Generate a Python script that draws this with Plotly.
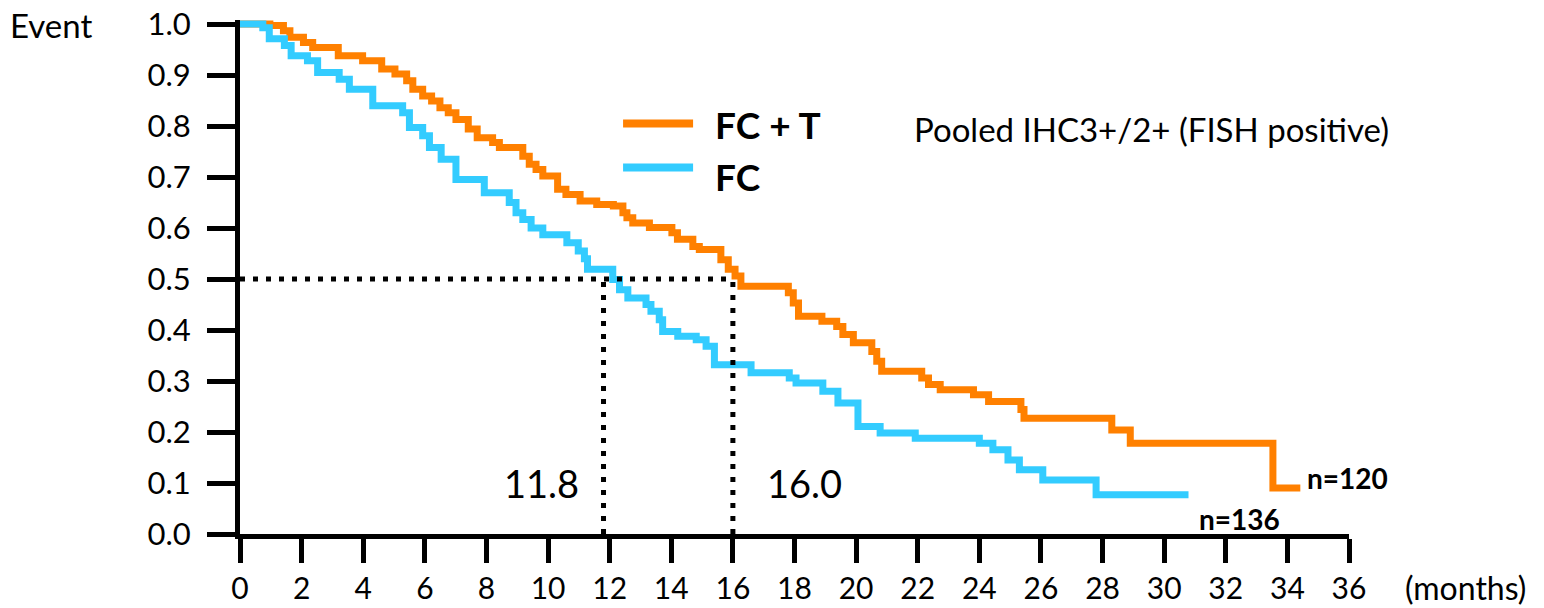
import plotly.graph_objects as go

# ---- data (months, survival proportion) ----
fct_time = [0, 0.97, 1.41, 1.62, 2.06, 2.36, 3.19, 3.98, 4.60, 5.03,
            5.41, 5.61, 5.93, 6.22, 6.49, 6.76, 7.01, 7.41, 7.70, 8.20,
            8.42, 9.18, 9.39, 9.61, 9.83, 10.31, 10.58, 11.04, 11.58, 12.12,
            12.43, 12.56, 12.75, 13.29, 14.02, 14.20, 14.70, 14.91, 15.61, 15.85,
            16.07, 16.26, 17.80, 17.96, 18.13, 18.89, 19.37, 19.57, 19.91, 20.51,
            20.67, 20.83, 22.13, 22.35, 22.73, 23.81, 24.30, 25.35, 25.45, 28.30,
            28.90, 33.53, 34.42]
fct_surv = [1.0, 0.997, 0.987, 0.974, 0.964, 0.954, 0.938, 0.928, 0.912, 0.902,
            0.889, 0.872, 0.859, 0.849, 0.836, 0.826, 0.813, 0.794, 0.777, 0.768,
            0.758, 0.741, 0.725, 0.715, 0.702, 0.676, 0.666, 0.653, 0.646, 0.643,
            0.630, 0.620, 0.610, 0.601, 0.591, 0.578, 0.564, 0.558, 0.538, 0.519,
            0.506, 0.486, 0.473, 0.453, 0.427, 0.417, 0.407, 0.391, 0.375, 0.358,
            0.339, 0.319, 0.306, 0.293, 0.283, 0.273, 0.260, 0.244, 0.227, 0.204,
            0.178, 0.090, 0.090]

fc_time = [0, 0.74, 0.95, 1.44, 1.66, 2.19, 2.52, 3.22, 3.55, 4.31,
           5.28, 5.50, 5.93, 6.15, 6.53, 7.01, 7.93, 8.74, 8.96, 9.18,
           9.45, 9.83, 10.61, 10.98, 11.18, 11.28, 12.10, 12.32, 12.59, 13.18,
           13.34, 13.61, 13.72, 14.21, 14.81, 15.13, 15.40, 16.59, 17.83, 18.05,
           18.92, 19.41, 20.06, 20.78, 21.92, 24.00, 24.44, 24.93, 25.30, 26.06,
           27.79, 30.79]
fc_surv = [1.0, 0.993, 0.971, 0.958, 0.938, 0.928, 0.905, 0.892, 0.872, 0.840,
           0.826, 0.797, 0.781, 0.758, 0.735, 0.695, 0.669, 0.650, 0.630, 0.617,
           0.600, 0.587, 0.571, 0.555, 0.540, 0.519, 0.499, 0.479, 0.463, 0.450,
           0.437, 0.420, 0.397, 0.388, 0.381, 0.368, 0.332, 0.316, 0.306, 0.296,
           0.280, 0.257, 0.211, 0.198, 0.188, 0.178, 0.165, 0.145, 0.126, 0.106,
           0.077, 0.077]

medians = [11.8, 16.0]          # FC, FC + T
median_level = 0.5
series_names = ["FC + T", "FC"]
n_labels = ["n=120", "n=136"]
x_ticks = list(range(0, 37, 2))
y_ticks = [i / 10 for i in range(0, 11)]
y_ticktext = [f"{v:.1f}" for v in y_ticks]

ORANGE = "#FF8000"
BLUE = "#33CCFF"
FONT = "Lato"

fig = go.Figure()

fig.add_trace(go.Scatter(x=fct_time, y=fct_surv, mode="lines", line_shape="hv",
                         line=dict(color=ORANGE, width=7), name=series_names[0],
                         showlegend=False))
fig.add_trace(go.Scatter(x=fc_time, y=fc_surv, mode="lines", line_shape="hv",
                         line=dict(color=BLUE, width=7), name=series_names[1],
                         showlegend=False))

dash_style = dict(color="black", width=5, dash="5px,8px")
fig.add_trace(go.Scatter(x=[0, max(medians)], y=[median_level, median_level],
                         mode="lines", line=dash_style, showlegend=False))
for m in medians:
    fig.add_trace(go.Scatter(x=[m, m], y=[0, median_level], mode="lines",
                             line=dash_style, showlegend=False))

# helpers: reference pixel -> paper coords (relative to plot area)
px_w = 1108.8
def xp(px):
    return (px - 240) / px_w
def yp(py):
    return (534 - py) / 509.9

shapes = [
    dict(type="line", xref="paper", yref="paper", x0=xp(623), x1=xp(693),
         y0=yp(126.7), y1=yp(126.7), line=dict(color=ORANGE, width=8)),
    dict(type="line", xref="paper", yref="paper", x0=xp(623), x1=xp(693),
         y0=yp(170.3), y1=yp(170.3), line=dict(color=BLUE, width=8)),
]

annotations = [
    dict(text=f"<b>{series_names[0]}</b>", xref="paper", yref="paper", x=xp(713), y=yp(128),
         xanchor="left", yanchor="middle", showarrow=False, font=dict(size=37, family=FONT)),
    dict(text=f"<b>{series_names[1]}</b>", xref="paper", yref="paper", x=xp(713), y=yp(179.7),
         xanchor="left", yanchor="middle", showarrow=False, font=dict(size=37, family=FONT)),
    dict(text="Pooled IHC3+/2+ (FISH positive)", xref="paper", yref="paper", x=xp(912), y=yp(132),
         xanchor="left", yanchor="middle", showarrow=False, font=dict(size=33, family=FONT)),
    dict(text="Event", xref="paper", yref="paper", x=xp(8), y=yp(29),
         xanchor="left", yanchor="middle", showarrow=False, font=dict(size=33, family=FONT)),
    dict(text="(months)", xref="paper", yref="paper", x=xp(1403), y=yp(587),
         xanchor="left", yanchor="middle", showarrow=False, font=dict(size=32, family=FONT)),
    dict(text=f"{medians[0]:.1f}", xref="paper", yref="paper", x=xp(541), y=yp(483),
         xanchor="center", yanchor="middle", showarrow=False, font=dict(size=38, family=FONT)),
    dict(text=f"{medians[1]:.1f}", xref="paper", yref="paper", x=xp(804), y=yp(483),
         xanchor="center", yanchor="middle", showarrow=False, font=dict(size=38, family=FONT)),
    dict(text=f"<b>{n_labels[0]}</b>", xref="paper", yref="paper", x=xp(1305), y=yp(478),
         xanchor="left", yanchor="middle", showarrow=False, font=dict(size=28, family=FONT)),
    dict(text=f"<b>{n_labels[1]}</b>", xref="paper", yref="paper", x=xp(1197), y=yp(519),
         xanchor="left", yanchor="middle", showarrow=False, font=dict(size=28, family=FONT)),
]

fig.update_layout(
    template="none",
    width=1544, height=608,
    margin=dict(l=240, r=195.2, t=20, b=74, pad=0),
    paper_bgcolor="white", plot_bgcolor="white",
    font=dict(family=FONT, color="black", size=31),
    shapes=shapes, annotations=annotations,
    showlegend=False,
)
fig.update_xaxes(range=[0, 36], tickvals=x_ticks, showgrid=False, zeroline=False,
                 automargin=False, ticklabeloverflow="allow",
                 showline=True, linecolor="black", linewidth=5,
                 ticks="outside", ticklen=24, tickwidth=5, tickcolor="black",
                 tickfont=dict(size=30, family=FONT), ticklabelstandoff=0)
fig.update_yaxes(range=[0, 1.008], tickvals=y_ticks, ticktext=y_ticktext,
                 showgrid=False, zeroline=False, automargin=False,
                 ticklabeloverflow="allow",
                 showline=True, linecolor="black", linewidth=5,
                 ticks="outside", ticklen=28, tickwidth=5, tickcolor="black",
                 tickfont=dict(size=31, family=FONT), ticklabelstandoff=10)

# remove the default 8px page margin so the figure fills the window exactly
fig.write_html("out.html", config={"displayModeBar": False},
               post_script="document.body.style.margin='0px';")
